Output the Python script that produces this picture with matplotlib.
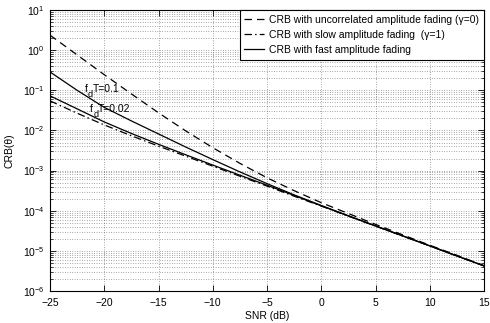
"""CRB versus SNR for uncorrelated, slow and fast amplitude fading."""

import math

import matplotlib
matplotlib.use("Agg")
import matplotlib.pyplot as plt
from matplotlib.ticker import FixedLocator, FuncFormatter, LogLocator, NullFormatter

plt.rcParams["font.family"] = ["Liberation Sans", "DejaVu Sans"]
plt.rcParams["mathtext.fontset"] = "custom"
plt.rcParams["mathtext.rm"] = "Liberation Sans"
plt.rcParams["mathtext.it"] = "Liberation Sans:italic"

snr_db = [-25, -22.5, -20, -17.5, -15, -12.5, -10, -7.5, -5, -2.5,
          0, 2.5, 5, 7.5, 10, 12.5, 15]

crb_uncorrelated = [2.37, 0.762, 0.245, 0.0813, 0.0275, 0.00977, 0.00372,
                    1.514e-3, 6.61e-4, 3.16e-4, 1.585e-4, 8.51e-5, 4.57e-5,
                    2.51e-5, 1.38e-5, 7.76e-6, 4.27e-6]
crb_slow = [0.0546, 0.0269, 0.01372, 0.00737, 0.00407, 0.00229, 1.288e-3,
            7.24e-4, 4.10e-4, 2.30e-4, 1.303e-4, 7.33e-5, 4.14e-5,
            2.34e-5, 1.326e-5, 7.46e-6, 4.22e-6]
crb_fast_01 = [0.287, 0.100, 0.0376, 0.01728, 0.00818, 0.00387, 1.88e-3,
               9.28e-4, 4.73e-4, 2.48e-4, 1.35e-4, 7.50e-5, 4.19e-5,
               2.36e-5, 1.33e-5, 7.46e-6, 4.22e-6]
crb_fast_002 = [0.0729, 0.0345, 0.0163, 0.00841, 0.00452, 0.00248, 1.372e-3,
                7.67e-4, 4.32e-4, 2.40e-4, 1.326e-4, 7.37e-5, 4.17e-5,
                2.36e-5, 1.33e-5, 7.46e-6, 4.22e-6]

x_ticks = [-25, -20, -15, -10, -5, 0, 5, 10, 15]
y_ticks = [1e-6, 1e-5, 1e-4, 1e-3, 1e-2, 1e-1, 1e0, 1e1]
labels = ["CRB with uncorrelated amplitude fading (\u03b3=0)",
          "CRB with slow amplitude fading  (\u03b3=1)",
          "CRB with fast amplitude fading"]
# f_d T annotations: (snr, crb at baseline, value text)
notes = [(-21.8, 0.089, "T=0.1"), (-21.3, 0.028, "T=0.02")]

FS = 7.5

fig = plt.figure(figsize=(4.9, 3.23), dpi=100)
ax = fig.add_axes([0.102, 0.099, 0.886, 0.870])

ax.semilogy(snr_db, crb_uncorrelated, color="black", lw=0.9,
            dashes=(6, 4), label=labels[0])
ax.semilogy(snr_db, crb_slow, color="black", lw=0.9,
            dashes=(6, 2.5, 1.2, 2.5), label=labels[1])
ax.semilogy(snr_db, crb_fast_01, color="black", lw=0.9, label=labels[2])
ax.semilogy(snr_db, crb_fast_002, color="black", lw=0.9)

ax.set_xlim(-25, 15)
ax.set_ylim(1e-6, 1e1)
ax.xaxis.set_major_locator(FixedLocator(x_ticks))
ax.xaxis.set_major_formatter(FuncFormatter(lambda v, p: f"{v:g}".replace("-", "\u2212")))
ax.yaxis.set_major_locator(FixedLocator(y_ticks))
ax.yaxis.set_minor_locator(LogLocator(base=10, subs=range(2, 10), numticks=20))
ax.yaxis.set_major_formatter(
    FuncFormatter(lambda v, p: r"$\mathregular{10^{%d}}$" % round(math.log10(v))))
ax.yaxis.set_minor_formatter(NullFormatter())

ax.grid(True, which="major", axis="both", color="#555555", lw=0.5, ls=(0, (1, 2.5)))
ax.grid(True, which="minor", axis="y", color="#555555", lw=0.5, ls=(0, (1, 2.5)))
ax.tick_params(which="both", direction="in", top=True, right=True, labelsize=FS)
ax.tick_params(which="major", length=4, width=0.6)
ax.tick_params(axis="x", which="major", pad=5)
ax.tick_params(axis="y", which="major", pad=4)
ax.tick_params(which="minor", length=2, width=0.5)
for s in ax.spines.values():
    s.set_linewidth(0.8)

ax.set_xlabel("SNR (dB)", fontsize=FS, labelpad=2)
ax.set_ylabel("CRB(\u03b8)", fontsize=FS, labelpad=6)

for x, y, rest in notes:
    ax.annotate("f", (x, y), fontsize=FS, ha="left", va="baseline")
    ax.annotate("d", (x, y), xytext=(2.3, -3.2), textcoords="offset points",
                fontsize=6.5, ha="left", va="baseline")
    ax.annotate(rest, (x, y), xytext=(5.6, 0), textcoords="offset points",
                fontsize=FS, ha="left", va="baseline")

leg = ax.legend(loc="upper right", fontsize=FS, frameon=True, fancybox=False,
                edgecolor="black", framealpha=1, handlelength=1.9,
                handletextpad=0.5, borderpad=0.45, labelspacing=0.5,
                borderaxespad=0)
leg.get_frame().set_linewidth(0.8)

fig.savefig("out.png", dpi=100)
